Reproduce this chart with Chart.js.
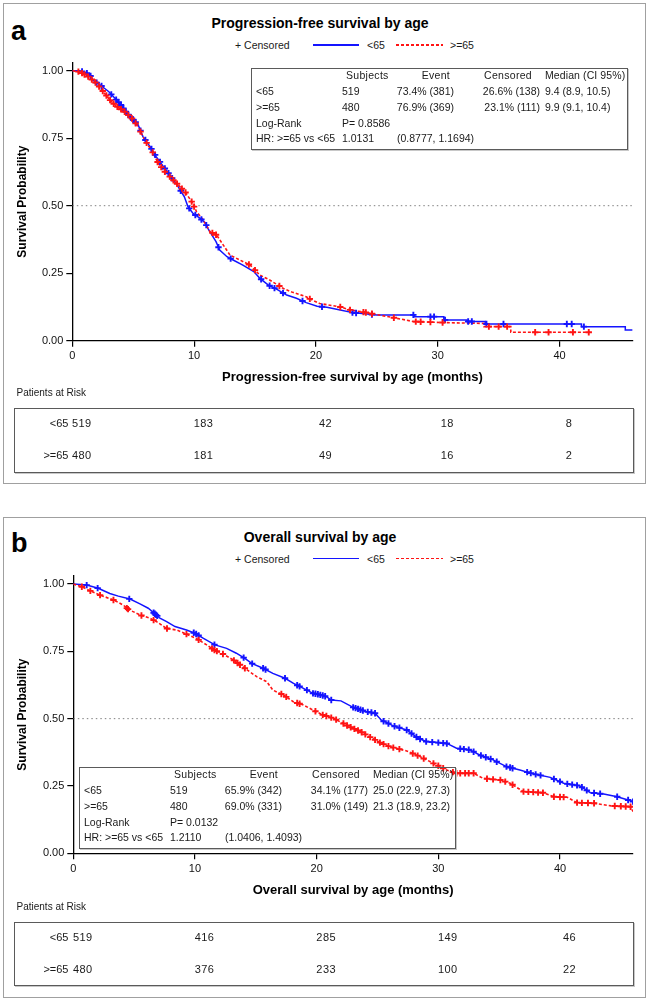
<!DOCTYPE html>
<html><head><meta charset="utf-8">
<script src="https://cdn.jsdelivr.net/npm/chart.js@4.4.0/dist/chart.umd.min.js"></script>
<style>
html,body{margin:0;padding:0;background:#fff;}
body{width:648px;height:1002px;position:relative;overflow:hidden;font-family:"Liberation Sans",Arial,sans-serif;color:#1a1a1a;}
.abs{position:absolute;white-space:nowrap;line-height:1;}
.frame{position:absolute;box-sizing:border-box;}
canvas{position:absolute;left:0;}
</style></head><body>
<script>
// ---------------- DATA ----------------
const monthTicks = [0, 10, 20, 30, 40];
const survTicks = [0, 0.25, 0.5, 0.75, 1.0];
const medianLevel = 0.5;
const groupLabels = ["<65", ">=65"];

// Panel a: progression-free survival (Kaplan-Meier curves)
const pfsMonthsLt65 = [0,0.6,1.4,1.7,2.3,3.0,3.5,4.0,4.5,4.9,5.4,5.8,6.4,6.9,7.5,8.0,8.7,9.2,9.5,9.9,10.5,10.9,11.2,11.8,12.1,12.7,13.2,14.0,14.9,15.4,16.1,16.8,17.6,18.4,19.2,20.1,20.9,22.0,23.0,24.0,25.0,28.1,28.1,30.5,30.5,32.4,32.4,33.9,33.9,41.8,41.8,45.4,45.4,46];
const pfsSurvLt65   = [1,1,0.988,0.965,0.947,0.922,0.898,0.873,0.842,0.823,0.8,0.756,0.718,0.681,0.644,0.614,0.57,0.533,0.496,0.472,0.453,0.437,0.41,0.367,0.336,0.311,0.299,0.28,0.256,0.231,0.206,0.19,0.169,0.157,0.141,0.128,0.124,0.114,0.104,0.1,0.0955,0.0955,0.089,0.089,0.077,0.077,0.071,0.071,0.062,0.062,0.052,0.052,0.04,0.04];
const pfsMonthsGe65 = [0,0.6,1.3,2.0,2.55,3.1,3.6,4.3,4.9,5.4,5.8,6.2,6.65,7.05,7.6,8.15,8.7,9.25,9.8,10.2,10.75,11.3,11.85,12.4,12.95,13.75,14.6,15.4,16.2,17.3,18.1,19.2,19.5,20.3,22.0,22.8,23.9,24.6,26.4,28.0,30.5,33.8,33.8,36.0,36.0,42.5];
const pfsSurvGe65   = [1,0.996,0.978,0.953,0.922,0.891,0.869,0.848,0.823,0.793,0.756,0.725,0.694,0.657,0.626,0.601,0.577,0.552,0.515,0.478,0.447,0.404,0.391,0.354,0.317,0.299,0.28,0.243,0.225,0.194,0.179,0.163,0.155,0.138,0.125,0.114,0.106,0.1,0.085,0.071,0.067,0.064,0.0523,0.0523,0.0311,0.0311];
const pfsCensorLt65 = [0.8,1.2,1.5,2.0,2.4,3.2,3.6,3.8,4.0,4.2,4.4,4.6,4.8,5.0,5.2,5.6,6.0,6.5,6.8,7.2,7.6,7.9,8.2,8.9,9.6,10.1,10.6,11.0,12.0,13.0,15.5,16.2,16.6,17.3,18.9,20.5,23.0,23.3,24.6,28.0,29.4,29.7,30.6,32.5,32.8,34.0,35.4,40.6,41.0,42.0];
const pfsCensorGe65 = [0.5,0.8,1.0,1.3,1.6,1.9,2.2,2.5,2.8,3.1,3.4,3.7,4.0,4.3,4.6,4.9,5.2,5.6,6.1,6.6,7.0,7.3,7.6,8.0,8.3,8.6,9.0,9.3,9.8,10.0,11.5,11.8,14.5,15.0,17.0,19.5,22.0,22.8,23.9,24.1,24.6,26.4,28.2,28.6,29.4,30.4,34.2,35.0,35.7,38.0,39.1,41.1,42.4];
const pfsRiskLt65 = [519, 183, 42, 18, 8];
const pfsRiskGe65 = [480, 181, 49, 16, 2];
const pfsStatsRows = [
  ["<65", "519", "73.4% (381)", "26.6% (138)", "9.4 (8.9, 10.5)"],
  [">=65", "480", "76.9% (369)", "23.1% (111)", "9.9 (9.1, 10.4)"]
];
const pfsLogRank = "P= 0.8586";
const pfsHR = ["1.0131", "(0.8777, 1.1694)"];

// Panel b: overall survival
const osMonthsLt65 = [0,1.1,2.05,3.0,3.7,4.66,5.48,6.16,6.58,7.12,7.67,8.36,9.3,10.0,10.7,11.64,12.6,13.4,14.1,14.66,15.6,16.4,17.4,18.1,18.63,19.2,19.7,20.0,20.8,21.2,22.0,23.0,24.1,24.8,25.3,26.3,27.4,28.35,29.0,30.7,31.5,32.6,33.4,34.5,35.6,36.7,37.8,39.2,40.3,41.6,42.5,43.6,44.7,45.6,46];
const osSurvLt65   = [1,0.996,0.984,0.965,0.955,0.944,0.926,0.91,0.894,0.873,0.86,0.842,0.829,0.817,0.798,0.774,0.761,0.743,0.724,0.705,0.687,0.668,0.65,0.631,0.619,0.606,0.594,0.592,0.582,0.569,0.566,0.542,0.526,0.52,0.495,0.473,0.458,0.427,0.415,0.408,0.39,0.384,0.365,0.347,0.322,0.309,0.295,0.282,0.26,0.251,0.225,0.22,0.21,0.198,0.192];
const osMonthsGe65 = [0,0.68,1.37,2.19,3.29,4.1,4.52,5.48,6.3,6.85,7.67,8.5,9.3,10.1,10.96,11.5,12.3,13.15,14.1,15.07,15.9,16.4,17.26,18.08,18.9,19.7,20.5,21.4,21.9,22.7,23.6,24.1,25.2,26.0,27.4,28.5,29.6,30.7,31.5,32.9,33.7,35.1,35.9,37.0,38.6,39.5,40.6,41.4,42.8,44.2,45.8,46];
const osSurvGe65   = [1,0.99,0.975,0.959,0.941,0.922,0.906,0.885,0.873,0.86,0.835,0.829,0.814,0.798,0.774,0.757,0.74,0.718,0.687,0.656,0.637,0.606,0.588,0.563,0.551,0.532,0.514,0.501,0.489,0.47,0.452,0.439,0.411,0.396,0.38,0.359,0.334,0.309,0.297,0.297,0.278,0.272,0.26,0.229,0.225,0.21,0.208,0.188,0.186,0.176,0.173,0.155];
const osCensorLt65 = [1.1,2.0,4.6,6.6,6.7,6.8,6.9,9.9,10.1,10.3,11.6,14.0,14.7,15.6,15.8,17.4,18.4,18.6,19.2,19.7,19.9,20.1,20.3,20.5,20.7,21.2,23.0,23.2,23.4,23.6,23.8,24.2,24.5,24.8,25.5,25.9,26.4,26.8,27.4,27.8,28.2,28.5,29.0,29.5,30.0,30.4,30.7,31.8,32.1,32.5,32.9,33.5,33.9,34.3,34.8,35.6,35.9,36.1,37.3,37.6,38.0,38.4,39.5,40.0,40.6,41.0,41.4,41.8,42.2,42.8,43.3,44.7,45.6,46.0];
const osCensorGe65 = [0.7,1.4,2.2,3.3,4.4,4.5,5.6,6.6,7.7,9.3,10.3,11.4,11.6,11.8,12.3,13.2,13.5,13.7,14.1,17.1,17.5,18.4,18.6,19.9,20.5,20.8,21.2,21.6,22.2,22.5,22.8,23.1,23.4,23.7,24.0,24.4,24.8,25.2,25.5,25.9,26.3,26.8,27.9,28.3,28.8,29.6,30.0,30.4,31.2,31.5,31.8,32.2,32.5,32.9,34.0,34.5,35.1,35.5,36.1,37.0,37.4,37.8,38.2,38.6,39.5,40.0,40.3,41.4,41.8,42.3,42.8,44.5,45.0,45.4,45.8];
const osRiskLt65 = [519, 416, 285, 149, 46];
const osRiskGe65 = [480, 376, 233, 100, 22];
const osStatsRows = [
  ["<65", "519", "65.9% (342)", "34.1% (177)", "25.0 (22.9, 27.3)"],
  [">=65", "480", "69.0% (331)", "31.0% (149)", "21.3 (18.9, 23.2)"]
];
const osLogRank = "P= 0.0132";
const osHR = ["1.2110", "(1.0406, 1.4093)"];

const statsHeader = ["Subjects", "Event", "Censored", "Median (CI 95%)"];

// ---------------- STYLE ----------------
const BLUE = "#1414ff";
const RED = "#ff1414";
const FONT = "'Liberation Sans', Arial, sans-serif";
const X_MAX = 46, Y_MAX = 1.03;

function txt(s, x, y, o = {}) {
  const d = document.createElement("div");
  d.className = "abs";
  d.textContent = s;
  d.style.left = x + "px";
  d.style.top = y + "px";
  d.style.fontSize = (o.size || 10.5) + "px";
  if (o.bold) d.style.fontWeight = "bold";
  if (o.color) d.style.color = o.color;
  if (o.ls) d.style.letterSpacing = o.ls + "px";
  const tx = o.align === "right" ? "-100%" : o.align === "center" ? "-50%" : "0";
  d.style.transform = `translate(${tx},-50%)`;
  document.body.appendChild(d);
  return d;
}
function rect(x, y, w, h, border, extra) {
  const d = document.createElement("div");
  d.className = "frame";
  d.style.left = x + "px"; d.style.top = y + "px";
  d.style.width = w + "px"; d.style.height = h + "px";
  d.style.border = border;
  if (extra) Object.assign(d.style, extra);
  document.body.appendChild(d);
  return d;
}
function legendLine(x, y, w, bg) {
  const d = document.createElement("div");
  d.className = "frame";
  d.style.left = x + "px"; d.style.top = (y - 0.75) + "px";
  d.style.width = w + "px"; d.style.height = "1.6px";
  d.style.background = bg;
  document.body.appendChild(d);
}
function survivalAt(ts, ss, t) {
  for (let i = 1; i < ts.length; i++) {
    if (t <= ts[i]) {
      const t0 = ts[i - 1], t1 = ts[i];
      if (t1 === t0) continue;
      return ss[i - 1] + (ss[i] - ss[i - 1]) * (t - t0) / (t1 - t0);
    }
  }
  return ss[ss.length - 1];
}
const pts = (ts, ss) => ts.map((t, i) => ({ x: t, y: ss[i] }));

function makePanel(p) {
  const oy = p.oy;
  rect(2.5, 3 + oy, 643, 481, "1.5px solid #a0a0a0");
  txt(p.letter, 11, p.letterY + oy, { size: 27, bold: true, color: "#000" });
  txt(p.title, 320, 23 + oy, { size: 14, bold: true, align: "center", color: "#000" });
  // legend
  txt("+ Censored", 235, 45 + oy, { size: 10.5 });
  legendLine(313, 45 + oy, 46, BLUE);
  txt(groupLabels[0], 367, 45 + oy, { size: 10.5 });
  legendLine(396, 45 + oy, 47, `repeating-linear-gradient(to right, ${RED} 0px, ${RED} 3px, transparent 3px, transparent 5px)`);
  txt(groupLabels[1], 450, 45 + oy, { size: 10.5 });

  const H = 390;
  const c = document.createElement("canvas");
  c.width = 648; c.height = H;
  c.style.top = p.canvasTop + "px";
  document.body.appendChild(c);
  const yZero = p.yZero, pxUnit = p.yZero - p.yOne;
  const areaTop = yZero - Y_MAX * pxUnit;
  const chart = new Chart(c, {
    type: "scatter",
    data: {
      datasets: [
        { data: pts(p.ltT, p.ltS), showLine: true, borderColor: BLUE, borderWidth: 1.5, pointRadius: 0, order: 3 },
        { data: pts(p.geT, p.geS), showLine: true, borderColor: RED, borderWidth: 1.6, borderDash: [3, 2], pointRadius: 0, order: 2 },
        { data: p.ltC.map(t => ({ x: t, y: survivalAt(p.ltT, p.ltS, t) })), showLine: false, pointStyle: "cross", pointRadius: 3.2, borderColor: BLUE, borderWidth: 1.9, order: 1 },
        { data: p.geC.map(t => ({ x: t, y: survivalAt(p.geT, p.geS, t) })), showLine: false, pointStyle: "cross", pointRadius: 3.2, borderColor: RED, borderWidth: 1.9, order: 0 },
        { data: [{ x: 0, y: medianLevel }, { x: X_MAX, y: medianLevel }], showLine: true, borderColor: "#808080", borderWidth: 1, borderDash: [1.5, 3], pointRadius: 0, order: 5 }
      ]
    },
    options: {
      responsive: false,
      animation: false,
      events: [],
      layout: { padding: { left: 0, right: 648 - p.xRight, top: areaTop, bottom: H - yZero - 45 } },
      plugins: { legend: { display: false }, tooltip: { enabled: false }, title: { display: false } },
      scales: {
        x: {
          type: "linear", min: 0, max: X_MAX,
          afterBuildTicks: s => { s.ticks = monthTicks.map(v => ({ value: v })); },
          afterFit: s => { s.height = 45; },
          ticks: { color: "#111", font: { family: FONT, size: 11 }, padding: 3, maxRotation: 0 },
          grid: { display: true, drawOnChartArea: false, drawTicks: true, tickLength: 6, color: "#000", lineWidth: 1.2 },
          border: { display: true, color: "#000", width: 1.3 },
          title: { display: true, text: p.xTitle, color: "#000", font: { family: FONT, size: 13, weight: "bold" }, padding: { top: 0, bottom: 0 } }
        },
        y: {
          type: "linear", min: 0, max: Y_MAX,
          afterBuildTicks: s => { s.ticks = survTicks.map(v => ({ value: v })); },
          afterFit: s => { s.width = p.xLeft; },
          ticks: { color: "#111", font: { family: FONT, size: 11 }, padding: 3, callback: v => Number(v).toFixed(2) },
          grid: { display: true, drawOnChartArea: false, drawTicks: true, tickLength: 6, color: "#000", lineWidth: 1.2 },
          border: { display: true, color: "#000", width: 1.3 },
          title: { display: true, text: "Survival Probability", color: "#000", font: { family: FONT, size: 12, weight: "bold" }, padding: { top: 15, bottom: 0 } }
        }
      }
    }
  });

  // stats box (transparent so the curves stay visible, as in the original)
  const bx = p.statsX, by = p.statsY;
  rect(bx, by, 377, 82, "1.5px solid #5a5a5a", { boxShadow: "1px 1px 0 #c8c8c8" });
  const r = [by + 7.5, by + 23, by + 39, by + 55, by + 70.5];
  txt(statsHeader[0], bx + 95, r[0], { size: 10.5, ls: 0.3 });
  txt(statsHeader[1], bx + 199, r[0], { size: 10.5, align: "right", ls: 0.3 });
  txt(statsHeader[2], bx + 281, r[0], { size: 10.5, align: "right", ls: 0.3 });
  txt(statsHeader[3], bx + 294, r[0], { size: 10.5, ls: 0.1 });
  p.stats.forEach((row, i) => {
    const y = r[1 + i];
    txt(row[0], bx + 5, y, { size: 10.5 });
    txt(row[1], bx + 91, y, { size: 10.5 });
    txt(row[2], bx + 203, y, { size: 10.5, align: "right" });
    txt(row[3], bx + 289, y, { size: 10.5, align: "right" });
    txt(row[4], bx + 294, y, { size: 10.5 });
  });
  txt("Log-Rank", bx + 5, r[3], { size: 10.5 });
  txt(p.logRank, bx + 91, r[3], { size: 10.5 });
  txt("HR: >=65 vs <65", bx + 5, r[4], { size: 10.5 });
  txt(p.hr[0], bx + 91, r[4], { size: 10.5 });
  txt(p.hr[1], bx + 146, r[4], { size: 10.5 });

  // risk table
  txt("Patients at Risk", 16.5, 393.3 + oy, { size: 10 });
  rect(14, 408.3 + oy, 620, 64.5, "1.5px solid #5a5a5a", { boxShadow: "1px 1px 0 #c8c8c8" });
  const rowY = [423.3 + oy, 455 + oy];
  txt(groupLabels[0], 68.5, rowY[0], { size: 11, align: "right" });
  txt(groupLabels[1], 68.5, rowY[1], { size: 11, align: "right" });
  monthTicks.forEach((t, i) => {
    const x = chart.scales.x.getPixelForValue(t) + 9.5;
    txt(String(p.riskLt[i]), x, rowY[0], { size: 11, align: "center", ls: 0.4 });
    txt(String(p.riskGe[i]), x, rowY[1], { size: 11, align: "center", ls: 0.4 });
  });
}

makePanel({
  oy: 0, letter: "a", letterY: 31, title: "Progression-free survival by age",
  xTitle: "Progression-free survival by age (months)",
  canvasTop: 0, yOne: 70.7, yZero: 340.7, xLeft: 72.3, xRight: 632.6,
  ltT: pfsMonthsLt65, ltS: pfsSurvLt65, geT: pfsMonthsGe65, geS: pfsSurvGe65,
  ltC: pfsCensorLt65, geC: pfsCensorGe65,
  statsX: 251, statsY: 67.5, stats: pfsStatsRows, logRank: pfsLogRank, hr: pfsHR,
  riskLt: pfsRiskLt65, riskGe: pfsRiskGe65
});
makePanel({
  oy: 513.5, letter: "b", letterY: 29, title: "Overall survival by age",
  xTitle: "Overall survival by age (months)",
  canvasTop: 513, yOne: 71, yZero: 340.3, xLeft: 73.3, xRight: 633,
  ltT: osMonthsLt65, ltS: osSurvLt65, geT: osMonthsGe65, geS: osSurvGe65,
  ltC: osCensorLt65, geC: osCensorGe65,
  statsX: 79, statsY: 766.5, stats: osStatsRows, logRank: osLogRank, hr: osHR,
  riskLt: osRiskLt65, riskGe: osRiskGe65
});
</script>
</body></html>
